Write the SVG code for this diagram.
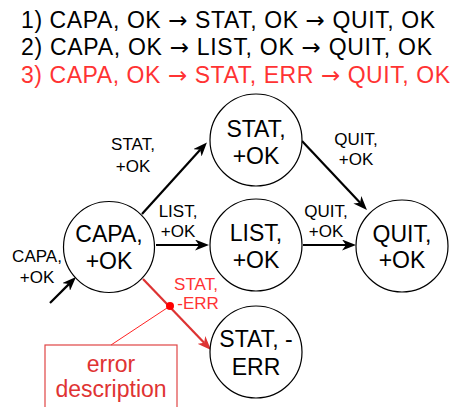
<svg xmlns="http://www.w3.org/2000/svg" width="455" height="407" viewBox="0 0 455 407">
<style>
text{font-family:"Liberation Sans",Arial,Helvetica,sans-serif;}
.title{font-size:23px;fill:#000;}
.arr{font-family:"DejaVu Sans",sans-serif;font-size:23px;}
.red{fill:#ff3333;}
.node circle{fill:#fff;stroke:#000;stroke-width:1.2;}
.node text{font-size:23px;text-anchor:middle;fill:#000;}
.edge{fill:none;stroke:#000;stroke-width:2.2;}
.edge.err{stroke:#dd3333;}
.lbl{font-size:17px;text-anchor:middle;fill:#000;}
.lbl.red{fill:#ff3333;}
</style>
<defs>
<marker id="ah" viewBox="0 0 14 11" refX="4" refY="5.5" markerWidth="14" markerHeight="11" markerUnits="userSpaceOnUse" orient="auto">
<path d="M0,0 L14,5.5 L0,11 L4,5.5 Z" fill="#000"/>
</marker>
<marker id="ahr" viewBox="0 0 14 11" refX="4" refY="5.5" markerWidth="14" markerHeight="11" markerUnits="userSpaceOnUse" orient="auto">
<path d="M0,0 L14,5.5 L0,11 L4,5.5 Z" fill="#dd3333"/>
</marker>
</defs>
<rect width="455" height="407" fill="#fff"/>
<g id="legend">
<text class="title" x="21" y="28" textLength="414" lengthAdjust="spacing">1) CAPA, OK <tspan class="arr">→</tspan> STAT, OK <tspan class="arr">→</tspan> QUIT, OK</text>
<text class="title" x="21" y="55" textLength="411" lengthAdjust="spacing">2) CAPA, OK <tspan class="arr">→</tspan> LIST, OK <tspan class="arr">→</tspan> QUIT, OK</text>
<text class="title red" x="21" y="83" textLength="429" lengthAdjust="spacing">3) CAPA, OK <tspan class="arr">→</tspan> STAT, ERR <tspan class="arr">→</tspan> QUIT, OK</text>
</g>
<g id="connectors">
<path class="edge" d="M50,303 L68.9,284.1" marker-end="url(#ah)"/>
<path class="edge" d="M142,214 L200.2,149.8" marker-end="url(#ah)"/>
<path class="edge" d="M156,245 L199,245" marker-end="url(#ah)"/>
<path class="edge" d="M302,141 L360.1,202.7" marker-end="url(#ah)"/>
<path class="edge" d="M303,245 L346,245" marker-end="url(#ah)"/>
<path class="edge err" d="M143,279 L204.1,342.8" marker-end="url(#ahr)"/>
<text class="lbl" x="37" y="262">CAPA,</text>
<text class="lbl" x="37" y="283">+OK</text>
<text class="lbl" x="133" y="150">STAT,</text>
<text class="lbl" x="133" y="172">+OK</text>
<text class="lbl" x="178" y="217">LIST,</text>
<text class="lbl" x="178" y="237">+OK</text>
<text class="lbl" x="356" y="145">QUIT,</text>
<text class="lbl" x="356" y="165">+OK</text>
<text class="lbl" x="326" y="217">QUIT,</text>
<text class="lbl" x="326" y="237">+OK</text>
<text class="lbl red" x="196" y="290">STAT,</text>
<text class="lbl red" x="198" y="309">-ERR</text>
</g>
<g id="error-note">
<line x1="170" y1="306" x2="111" y2="345" stroke="#ff2222" stroke-width="1"/>
<circle cx="170" cy="306" r="4" fill="#ff0000"/>
<rect x="45" y="345" width="132" height="70" fill="none" stroke="#e04545" stroke-width="1.2"/>
<text x="111" y="372" font-size="23" text-anchor="middle" fill="#e03333">error</text>
<text x="111" y="397" font-size="23" text-anchor="middle" fill="#e03333">description</text>
</g>
<g id="node-capa" class="node">
<circle cx="109" cy="247" r="45.5"/>
<text x="109" y="242">CAPA,</text>
<text x="109" y="269">+OK</text>
</g>
<g id="node-stat-ok" class="node">
<circle cx="256" cy="140" r="46"/>
<text x="256" y="137">STAT,</text>
<text x="256" y="164">+OK</text>
</g>
<g id="node-list-ok" class="node">
<circle cx="256" cy="245" r="46"/>
<text x="256" y="241">LIST,</text>
<text x="256" y="268">+OK</text>
</g>
<g id="node-quit-ok" class="node">
<circle cx="402" cy="246" r="46"/>
<text x="402" y="242">QUIT,</text>
<text x="402" y="268">+OK</text>
</g>
<g id="node-stat-err" class="node">
<circle cx="256" cy="352" r="46"/>
<text x="256" y="347">STAT, -</text>
<text x="256" y="375">ERR</text>
</g>
</svg>
